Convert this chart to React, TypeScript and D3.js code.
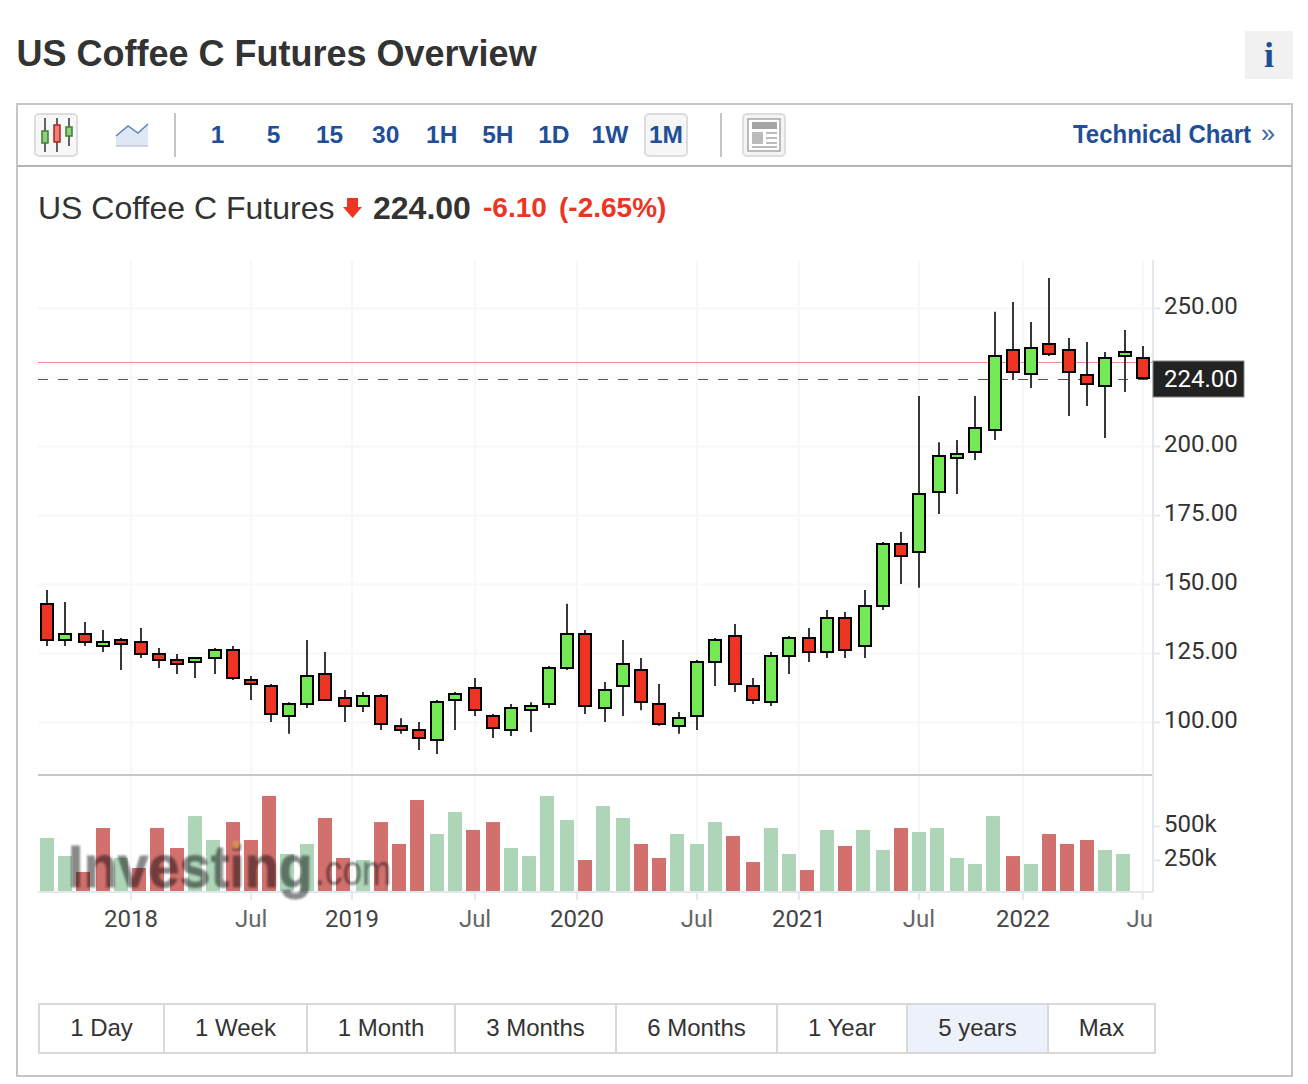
import { useEffect, useRef } from "react";
import * as d3 from "d3";

// monthly candles, Aug 2017 to Jul 2022
const opens = [142.6,129.8,131.8,127.7,129.6,128.9,124.5,122.4,121.9,123.3,126,115.1,112.9,102.3,106.6,117.3,108.6,105.9,109.3,98.4,97,93.6,108.1,112.2,102.1,97.2,104.5,106.6,119.7,131.8,105.2,113.2,118.7,106.4,98.7,102.3,121.9,131,112.9,107.4,124,130.3,125.5,137.6,127.7,142.1,164.4,161.7,183.5,195.8,197.9,205.9,234.7,226.2,236.8,234.7,225.9,221.9,232.7,231.8];
const highs = [147.8,143.5,136.2,133.3,130.4,134.1,126.8,124.6,123.5,126.8,127.5,116.7,113.8,107.2,129.7,125.4,111.6,110.9,110.1,101.4,100,108,110.9,115.9,102.9,106.5,107.2,120.3,142.8,133.3,114.5,129.7,123.2,113.8,103.6,122.5,130.4,135.5,115.9,125.4,131.2,134.1,140.6,139.9,147.8,165.2,168.8,218.1,201.4,202.2,218.1,248.6,252.2,244.9,260.9,239.1,237.7,234.1,242,236.2];
const lows = [127.5,127.5,127.5,125.4,118.8,123.2,119.6,117.4,115.9,117.4,115.2,108,100,95.7,105.1,108,100,103.6,97.1,95.7,89.9,88.4,97.1,102.2,94.2,94.9,96.4,105.1,118.8,102.9,100,102.2,104.3,98.6,95.7,97.1,113,110.9,106.5,105.8,117.4,121.7,123.2,123.2,123.2,140.6,150,148.6,175.4,182.6,194.9,202.2,223.9,221,232.6,210.9,214.5,202.9,219.6,223.9];
const closes = [129.8,131.8,129.1,128.9,128.4,124.8,122.6,121.1,123.1,126,116.1,113.9,103,106.4,116.6,108.1,105.9,109.3,99.4,97.2,94.3,107.1,110,104.5,97.9,105,105.7,119.5,131.8,105.9,111.5,120.9,107.4,99.4,101.3,121.6,129.6,113.9,108.1,123.8,130.3,125.5,137.6,126.2,141.9,164.4,160.3,182.5,196.3,197,206.4,232.5,226.9,235.4,233.5,226.9,222.6,231.8,233.9,224.8];

// volume in thousands, no bar yet for the last month
const volumes = [412,279,162,485,265,191,485,338,573,397,529,397,721,294,368,559,265,250,529,368,691,441,603,471,529,338,279,721,544,250,647,559,368,265,441,368,529,426,235,485,294,176,471,353,471,324,485,456,485,265,221,573,279,221,441,368,397,324,294];
const volumeUp = [1,1,0,0,1,0,0,0,1,1,0,0,0,1,1,0,0,1,0,0,0,1,1,0,0,1,1,1,1,0,1,1,0,0,1,1,1,0,0,1,1,0,1,0,1,1,0,1,1,1,1,1,0,1,0,0,0,1,1];

const priceTicks = [100, 125, 150, 175, 200, 250];
const priceGrid = [100, 125, 150, 175, 200, 225, 250];
const volumeTicks = [250, 500];
const timeSlots = [4.51, 10.98, 16.41, 23.04, 28.53, 34.99, 40.48, 46.95, 52.55, 59];
const timeLabels = ["2018", "Jul", "2019", "Jul", "2020", "Jul", "2021", "Jul", "2022", "Jul"];
const resolutions = ["1", "5", "15", "30", "1H", "5H", "1D", "1W", "1M"];
const rangeLabels = ["1 Day", "1 Week", "1 Month", "3 Months", "6 Months", "1 Year", "5 years", "Max"];
const rangeEdges = [39, 164, 307, 455, 616, 777, 907, 1048, 1155];

const LAST_PRICE = 224;
const PREV_CLOSE = 230.1;
const SANS = "'Liberation Sans', Arial, sans-serif";
const ROBOTO = "Roboto, sans-serif";
const BLUE = "#1f4f98";
const RED = "#ee3524";
const GREEN = "#73e955";

const PLOT = { left: 38, right: 1153, top: 260, split: 775, bottom: 892 };

const xScale = d3.scaleLinear().domain([0, 59]).range([47.27, 1142.72]);
const priceScale = d3.scaleLinear().domain([100, 250]).range([722, 308]);
const volumeScale = d3.scaleLinear().domain([0, 500]).range([894, 826]);
const resolutionScale = d3.scaleLinear().domain([0, 8]).range([217.5, 666]);

// candles sit on odd pixels so the 2px wicks stay sharp
const snapOdd = (v: number) => 2 * Math.round((v - 1) / 2) + 1;
// same idea for the thin price lines
const snapLine = (v: number) => Math.floor(v) + 0.5;

const App = () => {
    const priceAxisRef = useRef<SVGGElement>(null);
    const volumeAxisRef = useRef<SVGGElement>(null);
    const timeAxisRef = useRef<SVGGElement>(null);
    const gridXRef = useRef<SVGGElement>(null);
    const gridYRef = useRef<SVGGElement>(null);

    useEffect(() => {
        const styleAxis = (sel: any) => {
            sel.select(".domain").remove();
            sel.selectAll("line").attr("stroke", "#e3e7ee").attr("stroke-width", 2);
            sel.selectAll("text").attr("font-family", ROBOTO).attr("font-size", 24).attr("fill", "#333");
        };

        const priceAxis = d3.select(priceAxisRef.current);
        priceAxis.selectAll("*").remove();
        priceAxis.call(d3.axisRight(priceScale).tickValues(priceTicks).tickSize(7).tickPadding(4).tickFormat((d) => d3.format(".2f")(d as number)) as any);
        styleAxis(priceAxis);
        priceAxis.selectAll("text").attr("dy", "5.5px");

        const volumeAxis = d3.select(volumeAxisRef.current);
        volumeAxis.selectAll("*").remove();
        volumeAxis.call(d3.axisRight(volumeScale).tickValues(volumeTicks).tickSize(7).tickPadding(4).tickFormat((d) => d + "k") as any);
        styleAxis(volumeAxis);
        volumeAxis.selectAll("text").attr("dy", "5px");

        const timeAxis = d3.select(timeAxisRef.current);
        timeAxis.selectAll("*").remove();
        timeAxis.call(d3.axisBottom(xScale).tickValues(timeSlots).tickSize(8).tickPadding(10).tickFormat((_, i) => timeLabels[i]) as any);
        styleAxis(timeAxis);
        timeAxis.selectAll("text").attr("fill", (_, i) => (timeLabels[i] === "Jul" ? "#666" : "#444"));

        const gridX = d3.select(gridXRef.current);
        gridX.selectAll("*").remove();
        gridX.call(d3.axisBottom(xScale).tickValues(timeSlots).tickSize(PLOT.top - PLOT.bottom).tickFormat(() => "") as any);
        gridX.select(".domain").remove();
        gridX.selectAll("line").attr("stroke", "#f6f7f9").attr("stroke-width", 2);

        const gridY = d3.select(gridYRef.current);
        gridY.selectAll("*").remove();
        gridY.call(d3.axisLeft(priceScale).tickValues(priceGrid).tickSize(PLOT.right - PLOT.left).tickFormat(() => "") as any);
        gridY.select(".domain").remove();
        gridY.selectAll("line").attr("stroke", "#f7f7f7").attr("stroke-width", 2);
    }, []);

    return (
        <svg width={1308} height={1084} style={{ position: "absolute", left: 0, top: 0, display: "block", background: "#fff" }}>
            <defs>
                <clipPath id="timeClip"><rect x={0} y={PLOT.bottom} width={PLOT.right} height={60} /></clipPath>
                <filter id="soft"><feGaussianBlur stdDeviation={1.1} /></filter>
            </defs>

            {/* heading */}
            <text x={16.5} y={66} fontFamily={SANS} fontWeight="bold" fontSize={36} fill="#333">US Coffee C Futures Overview</text>
            <rect x={1245} y={31} width={48} height={48} fill="#f1f1f1" />
            <text x={1269} y={67} textAnchor="middle" fontFamily="'Liberation Serif', serif" fontWeight="bold" fontSize={36} fill={BLUE}>i</text>

            {/* panel and toolbar */}
            <rect x={17} y={104} width={1275} height={972} fill="none" stroke="#c6c6c6" strokeWidth={2} />
            <line x1={17} x2={1292} y1={166} y2={166} stroke="#b4b4b4" strokeWidth={2} />
            <rect x={35} y={114} width={42} height={42} rx={4} fill="#f7f7f7" stroke="#ddd" strokeWidth={2} />
            <g stroke="#333" strokeWidth={1.5}>
                <line x1={45} x2={45} y1={118} y2={152} />
                <line x1={57} x2={57} y1={118} y2={152} />
                <line x1={69} x2={69} y1={118} y2={146} />
            </g>
            <rect x={42} y={131} width={6} height={12} fill="#8fd07f" stroke="#3f7f2f" strokeWidth={1.5} />
            <rect x={54} y={125} width={6} height={17} fill="#ef7f78" stroke="#a8261c" strokeWidth={1.5} />
            <rect x={66} y={127} width={6} height={9} fill="#8fd07f" stroke="#3f7f2f" strokeWidth={1.5} />
            <path d="M116,136 L128,126 L138,133 L148,124 L148,146 L116,146 Z" fill="#dfe6f4" />
            <path d="M116,136 L128,126 L138,133 L148,124" fill="none" stroke="#5b84c0" strokeWidth={1.5} />
            <line x1={116} x2={148} y1={146} y2={146} stroke="#c3c9d4" strokeWidth={1.5} />
            <line x1={175} x2={175} y1={113} y2={157} stroke="#c4c4c4" strokeWidth={2} />
            <line x1={721} x2={721} y1={113} y2={157} stroke="#c4c4c4" strokeWidth={2} />
            <rect x={645} y={114} width={42} height={42} rx={4} fill="#f6f6f6" stroke="#ddd" strokeWidth={2} />
            {resolutions.map((r, i) => (
                <text key={r} x={resolutionScale(i)} y={143} textAnchor="middle" fontFamily={SANS} fontWeight="bold" fontSize={24.5} fill={BLUE}>{r}</text>
            ))}
            <rect x={743} y={114} width={42} height={42} rx={4} fill="#f4f4f4" stroke="#ddd" strokeWidth={2} />
            <rect x={748} y={119} width={32} height={32} fill="#fff" stroke="#a5a5a5" strokeWidth={1.5} />
            <rect x={752} y={122} width={25} height={7} fill="#a5a5a5" />
            <rect x={752} y={132} width={11} height={12} fill="#bbb" />
            <g stroke="#bbb" strokeWidth={2}>
                <line x1={766} x2={777} y1={133} y2={133} />
                <line x1={766} x2={777} y1={138} y2={138} />
                <line x1={766} x2={777} y1={143} y2={143} />
                <line x1={752} x2={777} y1={147} y2={147} />
            </g>
            <text x={1073} y={143} fontFamily={SANS} fontWeight="bold" fontSize={25} textLength={178} lengthAdjust="spacingAndGlyphs" fill={BLUE}>Technical Chart</text>
            <text x={1261} y={142} fontFamily={SANS} fontSize={25} fill="#3b68ad">»</text>

            {/* quote line */}
            <text x={38} y={219} fontFamily={SANS} fontSize={32} fill="#333">US Coffee C Futures</text>
            <path d="M347,198 L358,198 L358,207 L362,207 L352.5,218 L343,207 L347,207 Z" fill={RED} />
            <text x={373} y={219} fontFamily={SANS} fontWeight="bold" fontSize={32} fill="#333">224.00</text>
            <text x={483} y={217} fontFamily={SANS} fontWeight="bold" fontSize={28} fill={RED}>-6.10</text>
            <text x={559} y={217} fontFamily={SANS} fontWeight="bold" fontSize={28} fill={RED}>(-2.65%)</text>

            {/* grid */}
            <g ref={gridXRef} transform={`translate(-0.5,${PLOT.bottom})`} />
            <g ref={gridYRef} transform={`translate(${PLOT.right},0)`} />

            {/* volume */}
            {volumes.map((v, i) => (
                <rect
                    key={i}
                    x={snapOdd(xScale(i) - 0.75) - 7}
                    y={volumeScale(v)}
                    width={14}
                    height={891 - volumeScale(v)}
                    fill={volumeUp[i] ? "#aed5b8" : "#d2706e"}
                />
            ))}
            <line x1={PLOT.left} x2={PLOT.right} y1={PLOT.split} y2={PLOT.split} stroke="#c8c8c8" strokeWidth={2} />

            {/* last price and previous close */}
            <line x1={PLOT.left} x2={PLOT.right} y1={snapLine(priceScale(PREV_CLOSE))} y2={snapLine(priceScale(PREV_CLOSE))} stroke="#f48f88" strokeWidth={1} />
            <line x1={PLOT.left} x2={PLOT.right} y1={snapLine(priceScale(LAST_PRICE))} y2={snapLine(priceScale(LAST_PRICE))} stroke="#555" strokeWidth={1} strokeDasharray="10 10" />

            {/* candles */}
            {closes.map((c, i) => {
                const x = snapOdd(xScale(i));
                const top = Math.round(priceScale(Math.max(opens[i], c)));
                const bottom = Math.round(priceScale(Math.min(opens[i], c)));
                return (
                    <g key={i}>
                        <line x1={x} x2={x} y1={priceScale(highs[i])} y2={priceScale(lows[i])} stroke="#32393c" strokeWidth={2} />
                        <rect x={x - 6} y={top} width={12} height={bottom - top} fill={c >= opens[i] ? GREEN : RED} stroke="#000" strokeWidth={2} />
                    </g>
                );
            })}

            {/* axes */}
            <line x1={PLOT.right} x2={PLOT.right} y1={PLOT.top} y2={PLOT.bottom} stroke="#e3e7ee" strokeWidth={2} />
            <line x1={PLOT.left} x2={PLOT.right} y1={PLOT.bottom} y2={PLOT.bottom} stroke="#e3e7ee" strokeWidth={2} />
            <g ref={priceAxisRef} transform={`translate(${PLOT.right},0)`} />
            <g ref={volumeAxisRef} transform={`translate(${PLOT.right},0)`} />
            <g clipPath="url(#timeClip)">
                <g ref={timeAxisRef} transform={`translate(-0.5,${PLOT.bottom})`} />
            </g>
            <rect x={1153} y={361} width={91} height={36} fill="#222" stroke="#888" strokeWidth={1} />
            <text x={1164} y={387} fontFamily={ROBOTO} fontSize={24} fill="#fff">{d3.format(".2f")(LAST_PRICE)}</text>

            {/* watermark */}
            <g filter="url(#soft)" fill="#000" stroke="#000" strokeWidth={0.8} opacity={0.46} fontFamily={SANS}>
                <text transform="translate(68,887) scale(0.93,1)" fontWeight="bold" fontSize={60}>Investing</text>
                <text transform="translate(315,885) scale(0.84,1)" strokeWidth={0} fontSize={42}>.com</text>
            </g>
            <circle cx={236} cy={845} r={4} fill="#e8a050" opacity={0.8} filter="url(#soft)" />

            {/* range buttons */}
            <rect x={rangeEdges[6]} y={1004} width={rangeEdges[7] - rangeEdges[6]} height={49} fill="#edf2fa" />
            <rect x={rangeEdges[0]} y={1004} width={rangeEdges[8] - rangeEdges[0]} height={49} fill="none" stroke="#d9d9d9" strokeWidth={2} />
            {rangeLabels.map((label, i) => (
                <g key={label}>
                    {i > 0 && <line x1={rangeEdges[i]} x2={rangeEdges[i]} y1={1004} y2={1053} stroke="#d9d9d9" strokeWidth={2} />}
                    <text x={(rangeEdges[i] + rangeEdges[i + 1]) / 2} y={1036} textAnchor="middle" fontFamily={SANS} fontSize={24} fill="#333">{label}</text>
                </g>
            ))}
        </svg>
    );
};

export default App;
